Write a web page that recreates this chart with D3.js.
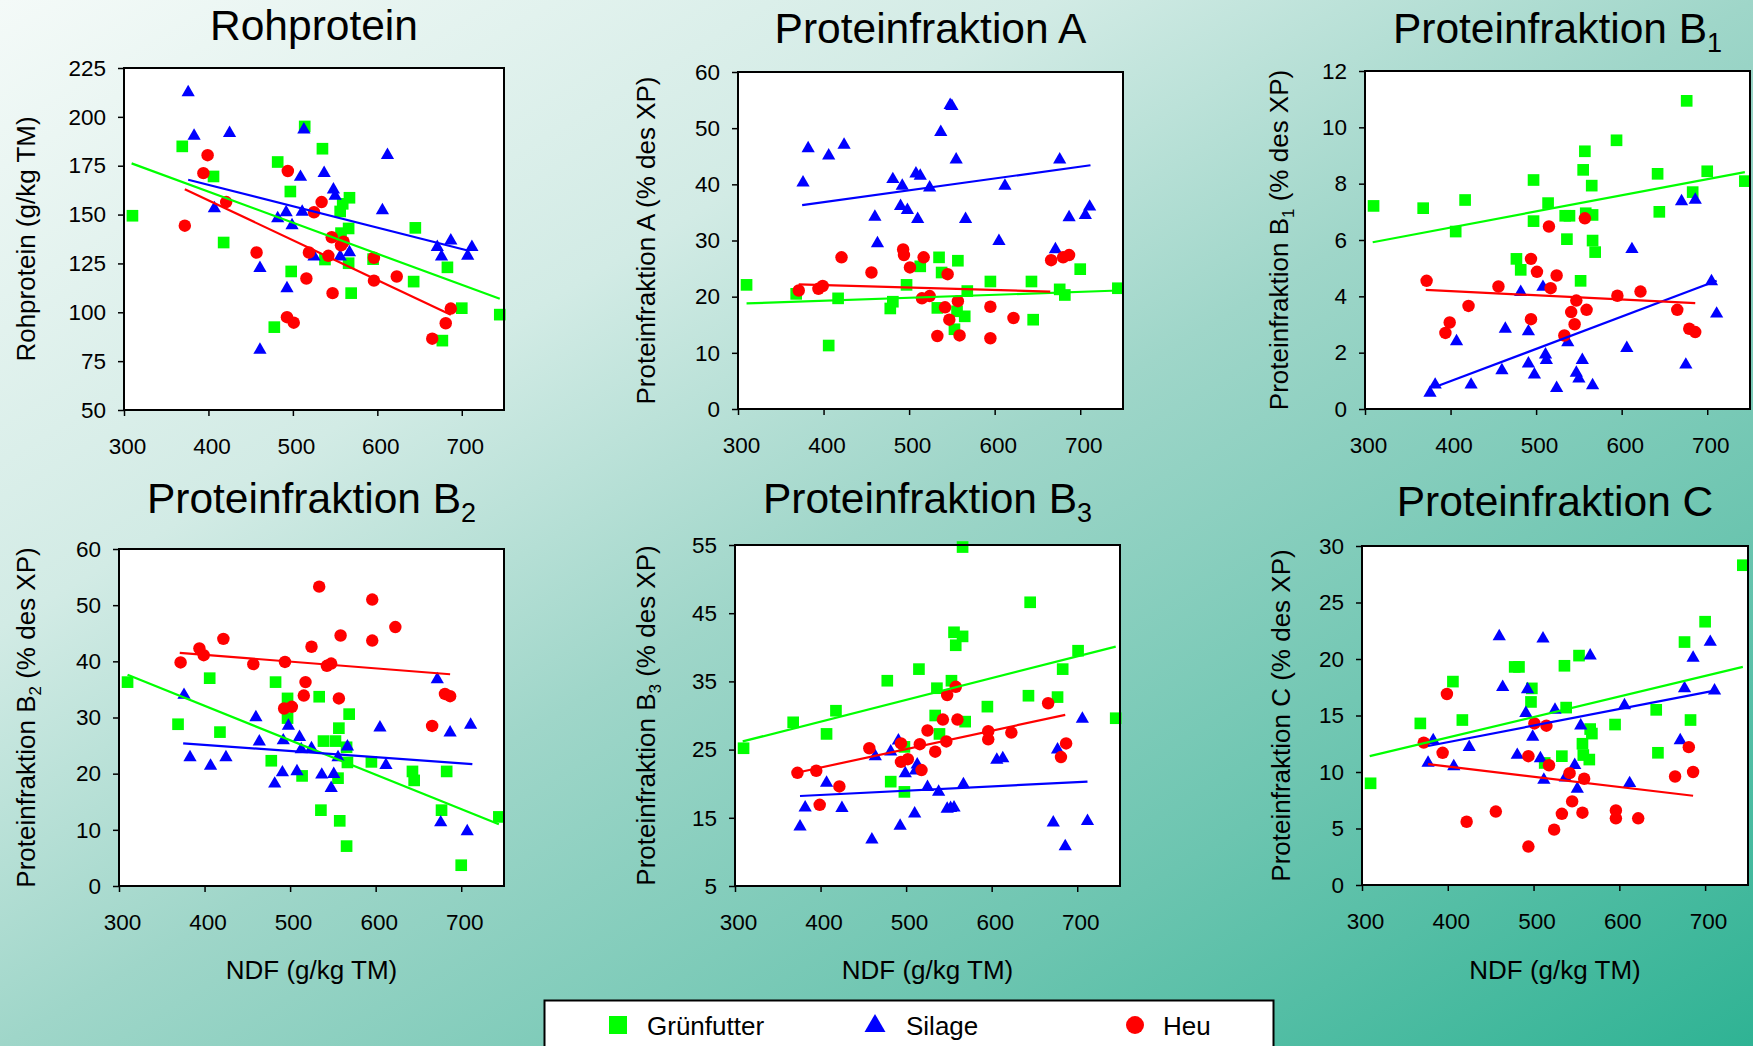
<!DOCTYPE html>
<html>
<head>
<meta charset="utf-8">
<script src="https://cdn.jsdelivr.net/npm/d3@7/dist/d3.min.js"></script>
<style>
  html, body { margin: 0; padding: 0; }
  body { width: 1753px; height: 1046px; overflow: hidden; }
  svg { display: block; font-family: "Liberation Sans", Arial, Helvetica, sans-serif; }
</style>
</head>
<body>
<svg id="chart" width="1753" height="1046"></svg>
<script>
// ---- data: [NDF g/kg TM, value] per forage type ----
const xTicks = [300, 400, 500, 600, 700];
const xDomain = [300, 750];

const seriesNames = ["Grünfutter", "Silage", "Heu"];

// Rohprotein (g/kg TM)
const rpTicks = [50, 75, 100, 125, 150, 175, 200, 225];
const rpGreen = [[310,149.4],[369,184.9],[406,169.5],[418,135.7],[482,176.9],[478,92.4],[497,161.8],[498,120.9],[514,195.1],[535,183.7],[538,127],[556,151.6],[559,155.5],[567,158.6],[566,142.9],[557,140.5],[566,125.1],[569,109.8],[595,127.2],[645,143.2],[643,115.7],[683,123],[677,85.5],[700,102.1],[745,98.8]];
const rpBlue = [[376,212.5],[383,190.3],[425,191.7],[407,153.1],[461,122.6],[461,80.7],[482,148],[492,151.1],[499,144.4],[493,112.2],[509,169.2],[513,193.4],[511,151.4],[525,128.5],[537,171.2],[548,162.7],[550,159.6],[556,128.5],[567,130.6],[612,180.4],[606,152.1],[671,133.3],[676,128.5],[687,136.7],[707,128.9],[712,133.3]];
const rpRed = [[372,144.3],[394,171.2],[399,180.4],[421,156.4],[457,130.6],[494,172.3],[493,97.5],[501,94.7],[519,130.6],[516,117.3],[525,151.2],[534,156.4],[546,138.4],[542,128.9],[547,109.8],[560,136.1],[557,134.3],[596,127.9],[596,116.2],[623,118.3],[665,86.5],[681,94.4],[687,101.9]];
const rpTrend = [[[309,176.2],[745,106.9]], [[376,167.8],[707,131.6]], [[372,163],[687,98.7]]];

// Proteinfraktion A (% des XP)
const aTicks = [0, 10, 20, 30, 40, 50, 60];
const aGreen = [[310,22.1],[368,20.5],[406,11.3],[417,19.7],[478,17.9],[481,19.1],[497,22.1],[513,25.4],[535,27],[538,24.3],[533,18],[557,26.4],[556,17.4],[553,14.2],[565,16.5],[568,21],[595,22.7],[643,22.7],[645,15.9],[676,21.3],[682,20.3],[700,24.9],[744,21.5]];
const aBlue = [[376,40.3],[382,46.4],[406,45.1],[424,47],[460,34.2],[463,29.5],[481,40.9],[492,39.7],[490,36.1],[498,35.4],[508,41.9],[513,41.5],[510,33.8],[524,39.4],[537,49.3],[548,54.1],[550,53.9],[555,44.4],[566,33.8],[605,29.9],[612,39.7],[671,28.4],[676,44.4],[687,34.1],[706,34.5],[711,36]];
const aRed = [[371,21.1],[394,21.4],[399,21.9],[421,27],[456,24.3],[493,28.4],[494,27.4],[501,25.2],[515,19.7],[517,27],[524,20.1],[533,13],[545,24],[542,18.1],[547,15.9],[557,19.2],[559,13.1],[595,18.2],[595,12.6],[622,16.2],[666,26.5],[680,27],[687,27.4]];
const aTrend = [[[310,18.8],[745,21.1]], [[375,36.3],[712,43.4]], [[371,22.2],[665,20.9]]];

// Proteinfraktion B1 (% des XP)
const b1Ticks = [0, 2, 4, 6, 8, 10, 12];
const b1Green = [[310,7.21],[368,7.13],[406,6.30],[417,7.42],[477,5.33],[482,4.94],[497,8.13],[497,6.67],[514,7.31],[534,6.86],[539,6.86],[536,6.03],[557,9.15],[555,8.49],[552,4.55],[558,6.95],[565,7.93],[566,6.89],[566,5.98],[569,5.57],[594,9.54],[642,8.35],[644,7.0],[676,10.94],[683,7.70],[700,8.44],[744,8.09]];
const b1Blue = [[376,0.57],[382,0.86],[407,2.40],[424,0.86],[460,1.37],[464,2.84],[482,4.15],[491,2.75],[491,1.61],[498,1.22],[508,4.33],[511,1.93],[512,1.73],[524,0.74],[537,2.36],[547,1.28],[550,1.08],[554,1.73],[566,0.84],[606,2.16],[612,5.67],[670,7.37],[686,7.42],[675,1.57],[705,4.53],[711,3.38]];
const b1Red = [[372,4.55],[394,2.70],[399,3.07],[421,3.66],[456,4.35],[494,5.33],[501,4.87],[494,3.19],[515,6.48],[517,4.29],[524,4.74],[533,2.61],[541,3.44],[547,3.85],[545,3.01],[557,6.77],[559,3.52],[595,4.02],[622,4.17],[665,3.52],[679,2.85],[686,2.73]];
const b1Trend = [[[309,5.92],[744,8.41]], [[381,0.77],[711,4.55]], [[371,4.23],[686,3.76]]];

// Proteinfraktion B2 (% des XP)
const b2Ticks = [0, 10, 20, 30, 40, 50, 60];
const b2Green = [[310,36.3],[369,28.8],[406,37],[418,27.4],[478,22.3],[483,36.3],[497,33.4],[497,29.9],[514,19.6],[534,33.7],[536,13.5],[539,25.8],[553,25.8],[556,19.2],[557,28.1],[558,11.6],[566,24.7],[567,22],[569,30.6],[566,7.1],[595,22.1],[643,20.4],[645,18.8],[677,13.5],[683,20.4],[700,3.7],[744,12.3]];
const b2Blue = [[376,34],[383,22.9],[407,21.4],[425,22.9],[460,30],[464,25.7],[482,18.2],[491,20.2],[492,25.9],[498,28.5],[508,20.4],[511,26.5],[513,24.3],[525,24.5],[537,19.8],[548,17.4],[551,19.9],[556,22.9],[567,24.8],[605,28.2],[612,21.5],[672,36.8],[676,11.3],[687,27.3],[707,9.7],[711,28.7]];
const b2Red = [[372,39.8],[394,42.3],[399,41.1],[422,44],[457,39.5],[494,39.9],[493,31.6],[502,31.9],[516,33.9],[518,36.3],[525,42.6],[534,53.3],[543,39.2],[548,39.6],[557,33.4],[559,44.6],[596,43.7],[596,51],[623,46.1],[666,28.5],[681,34.2],[687,33.8]];
const b2Trend = [[[310,37.6],[744,11]], [[375,25.4],[713,21.7]], [[371,41.5],[687,37.7]]];

// Proteinfraktion B3 (% des XP)
const b3Ticks = [5, 15, 25, 35, 45, 55];
const b3Green = [[310,25.2],[368,29],[407,27.3],[418,30.7],[478,35.1],[482,20.3],[498,18.8],[498,25.4],[515,36.8],[534,30],[536,34],[539,27.3],[553,35.1],[556,42.2],[558,40.3],[566,41.6],[566,54.7],[569,29.1],[595,31.3],[643,32.9],[645,46.6],[677,32.7],[683,36.8],[701,39.5],[745,29.6]];
const b3Blue = [[376,13.7],[382,16.5],[407,20.1],[425,16.4],[460,11.8],[464,24],[482,24.7],[491,26.3],[493,13.8],[499,21.5],[510,15.6],[511,21.9],[513,22.8],[525,19.5],[538,18.8],[548,16.3],[552,16.4],[556,16.5],[567,19.9],[606,23.5],[613,23.7],[672,14.3],[677,25],[686,10.8],[706,29.5],[712,14.5]];
const b3Red = [[373,21.6],[395,21.9],[399,16.9],[422,19.6],[457,25.2],[494,25.9],[494,23.2],[502,23.6],[516,25.8],[518,22],[525,27.8],[534,24.7],[543,29.4],[547,26.2],[548,33],[558,34.2],[560,29.4],[596,27.7],[596,26.5],[623,27.5],[666,31.8],[681,23.9],[687,25.9]];
const b3Trend = [[[309,26.2],[745,40.1]], [[376,18.2],[712,20.3]], [[368,21.5],[686,30.1]]];

// Proteinfraktion C (% des XP)
const cTicks = [0, 5, 10, 15, 20, 25, 30];
const cGreen = [[310,9],[368,14.3],[406,18],[417,14.6],[478,19.3],[483,19.3],[498,17.4],[497,16.2],[513,10.8],[533,11.4],[536,19.4],[538,15.7],[553,20.3],[557,12.5],[558,11.5],[566,13.8],[568,13.4],[565,11.1],[595,14.2],[643,15.5],[645,11.7],[676,21.5],[683,14.6],[700,23.3],[744,28.3]];
const cBlue = [[377,10.8],[383,12.8],[407,10.5],[425,12.2],[460,22],[464,17.5],[481,11.5],[493,17.3],[491,15.2],[499,13.1],[508,11.2],[511,21.8],[512,9.3],[525,15.5],[537,9.5],[548,10.6],[551,8.5],[555,14.1],[566,20.3],[612,9],[606,15.9],[671,12.8],[676,17.4],[686,20.1],[706,21.5],[711,17.2]];
const cRed = [[372,12.6],[394,11.7],[399,16.9],[422,5.6],[456,6.5],[494,11.4],[494,3.4],[501,14.3],[515,14.1],[518,10.6],[524,4.9],[533,6.3],[542,9.9],[545,7.4],[557,6.4],[559,9.4],[596,6.6],[596,5.9],[622,5.9],[665,9.6],[681,12.2],[686,10]];
const cTrend = [[[309,11.4],[744,19.3]], [[377,12.3],[711,17.2]], [[377,10.7],[686,7.9]]];

// ---- styling ----
const colors = ["#00ff00", "#0000ff", "#ff0000"];
const shapes = [d3.symbolSquare, d3.symbolTriangle, d3.symbolCircle];
const sizes = [136, 76, 122];

const panels = [
  { title: "Rohprotein", sub: null, ylab: ["Rohprotein (g/kg TM)"], ticks: rpTicks,
    series: [rpGreen, rpBlue, rpRed], trend: rpTrend,
    box: { l: 124, t: 68, r: 504, b: 410 }, titleY: 40, ylabX: 35, xlab: false },
  { title: "Proteinfraktion A", sub: null, ylab: ["Proteinfraktion A (% des XP)"], ticks: aTicks,
    series: [aGreen, aBlue, aRed], trend: aTrend,
    box: { l: 738, t: 72, r: 1123, b: 409 }, titleY: 43, ylabX: 655, xlab: false },
  { title: "Proteinfraktion B", sub: "1", ylab: ["Proteinfraktion B", "1", " (% des XP)"], ticks: b1Ticks,
    series: [b1Green, b1Blue, b1Red], trend: b1Trend,
    box: { l: 1365, t: 71, r: 1750, b: 409 }, titleY: 43, ylabX: 1288, xlab: false },
  { title: "Proteinfraktion B", sub: "2", ylab: ["Proteinfraktion B", "2", " (% des XP)"], ticks: b2Ticks,
    series: [b2Green, b2Blue, b2Red], trend: b2Trend,
    box: { l: 119, t: 549, r: 504, b: 886 }, titleY: 513, ylabX: 35, xlab: true },
  { title: "Proteinfraktion B", sub: "3", ylab: ["Proteinfraktion B", "3", " (% des XP)"], ticks: b3Ticks,
    series: [b3Green, b3Blue, b3Red], trend: b3Trend,
    box: { l: 735, t: 545, r: 1120, b: 886 }, titleY: 513, ylabX: 655, xlab: true },
  { title: "Proteinfraktion C", sub: null, ylab: ["Proteinfraktion C (% des XP)"], ticks: cTicks,
    series: [cGreen, cBlue, cRed], trend: cTrend,
    box: { l: 1362, t: 546, r: 1748, b: 885 }, titleY: 516, ylabX: 1290, xlab: true }
];

const svg = d3.select("#chart");

// background gradient
const defs = svg.append("defs");
const grad = defs.append("linearGradient").attr("id", "bg")
  .attr("x1", 0).attr("y1", 0).attr("x2", 1).attr("y2", 1);
[["0%", "#f4faf8"], ["30%", "#d2ebe5"], ["50%", "#9fd6c9"], ["75%", "#6cc5b0"], ["100%", "#2fb394"]]
  .forEach(([o, c]) => grad.append("stop").attr("offset", o).attr("stop-color", c));
svg.append("rect").attr("width", 1753).attr("height", 1046).attr("fill", "url(#bg)");

panels.forEach(p => {
  const b = p.box;
  const x = d3.scaleLinear().domain(xDomain).range([b.l, b.r]);
  const y = d3.scaleLinear().domain(d3.extent(p.ticks)).range([b.b, b.t]);
  const g = svg.append("g");

  // plot area
  g.append("rect").attr("x", b.l).attr("y", b.t)
    .attr("width", b.r - b.l).attr("height", b.b - b.t).attr("fill", "#fff");

  // axes
  const ya = g.append("g").attr("transform", `translate(${b.l},0)`)
    .call(d3.axisLeft(y).tickValues(p.ticks).tickSize(6).tickPadding(12).tickFormat(d3.format("d")));
  const xa = g.append("g").attr("transform", `translate(0,${b.b})`)
    .call(d3.axisBottom(x).tickValues(xTicks).tickSize(6).tickPadding(22).tickFormat(d3.format("d")));
  [ya, xa].forEach(a => {
    a.select(".domain").remove();
    a.selectAll(".tick line").attr("stroke", "#000").attr("stroke-width", 1.5);
    a.selectAll(".tick text").attr("fill", "#000").style("font-size", "22.5px")
      .style("font-family", "'Liberation Sans', Arial, sans-serif");
  });
  xa.selectAll(".tick text").attr("dx", 3);

  // markers: green, blue, red
  p.series.forEach((data, i) => {
    g.append("g").selectAll("path").data(data).join("path")
      .attr("transform", d => `translate(${x(d[0])},${y(d[1])})`)
      .attr("d", d3.symbol().type(shapes[i]).size(sizes[i]))
      .attr("fill", colors[i]);
  });

  // trend lines
  const line = d3.line().x(d => x(d[0])).y(d => y(d[1]));
  p.trend.forEach((seg, i) => {
    g.append("path").attr("d", line(seg)).attr("fill", "none")
      .attr("stroke", colors[i]).attr("stroke-width", 2.2);
  });

  // frame
  g.append("rect").attr("x", b.l).attr("y", b.t)
    .attr("width", b.r - b.l).attr("height", b.b - b.t)
    .attr("fill", "none").attr("stroke", "#000").attr("stroke-width", 2);

  // title
  const cx = (b.l + b.r) / 2;
  const t = g.append("text").attr("x", cx).attr("y", p.titleY)
    .attr("text-anchor", "middle").style("font-size", "42.5px").attr("fill", "#000");
  t.append("tspan").text(p.title);
  if (p.sub) t.append("tspan").attr("dy", 9).style("font-size", "27px").text(p.sub);

  // y label
  const cy = (b.t + b.b) / 2;
  const yl = g.append("text").attr("transform", `translate(${p.ylabX},${cy}) rotate(-90)`)
    .attr("text-anchor", "middle").style("font-size", "26px").attr("fill", "#000");
  if (p.ylab.length === 1) {
    yl.text(p.ylab[0]);
  } else {
    yl.append("tspan").text(p.ylab[0]);
    yl.append("tspan").attr("dy", 6).style("font-size", "17px").text(p.ylab[1]);
    yl.append("tspan").attr("dy", -6).text(p.ylab[2]);
  }

  // x label
  if (p.xlab) {
    g.append("text").attr("x", cx).attr("y", 979).attr("text-anchor", "middle")
      .style("font-size", "26px").attr("fill", "#000").text("NDF (g/kg TM)");
  }
});

// legend
const lg = svg.append("g");
lg.append("rect").attr("x", 544.5).attr("y", 1000.5).attr("width", 729).attr("height", 70)
  .attr("fill", "#fff").attr("stroke", "#000").attr("stroke-width", 2);
const legendX = [618, 875, 1135];
const legendTextX = [647, 906, 1163];
const legendSizes = [324, 190, 254];
seriesNames.forEach((name, i) => {
  lg.append("path").attr("transform", `translate(${legendX[i]},${i === 1 ? 1026 : 1025})`)
    .attr("d", d3.symbol().type(shapes[i]).size(legendSizes[i])).attr("fill", colors[i]);
  lg.append("text").attr("x", legendTextX[i]).attr("y", 1035)
    .style("font-size", "26px").attr("fill", "#000").text(name);
});
</script>
</body>
</html>
